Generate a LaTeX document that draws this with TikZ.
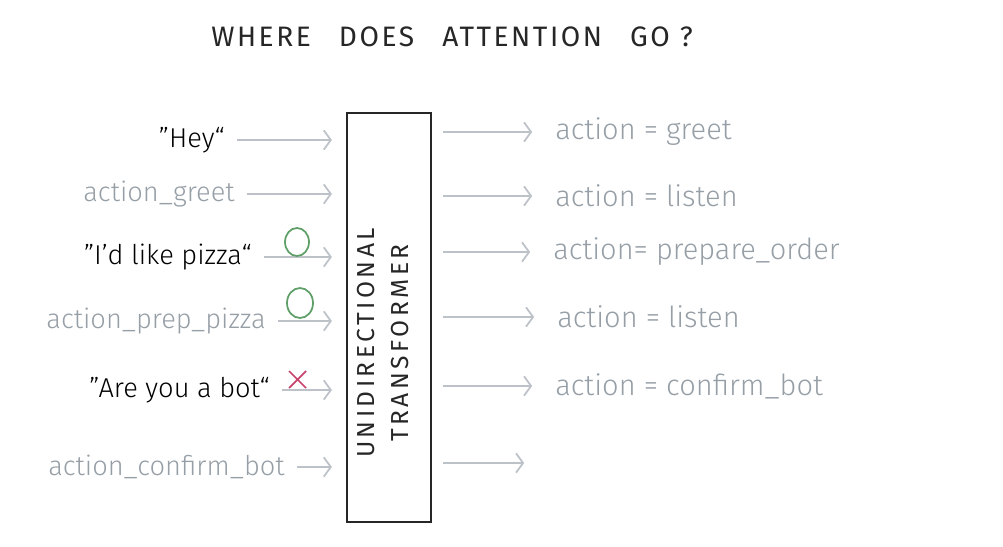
\documentclass[tikz,border=0pt]{standalone}
\usepackage{fontspec}
\setmainfont{Fira Sans Light}
\newfontfamily\capsfont[LetterSpace=9]{Fira Sans}
\newfontfamily\boxfont[LetterSpace=14]{Fira Sans}
\usetikzlibrary{arrows.meta}

\definecolor{inkgray}{RGB}{150,158,166}
\definecolor{arrowgray}{RGB}{188,194,200}
\definecolor{okgreen}{RGB}{95,160,105}
\definecolor{nored}{RGB}{200,70,110}

\tikzset{
  intext/.style={anchor=east, inner sep=0pt, font=\fontsize{15.5}{19}\selectfont},
  outtext/.style={anchor=west, inner sep=0pt, text=inkgray, font=\fontsize{16.5}{19}\selectfont},
  arr/.style={arrowgray, line width=1pt, -{Straight Barb[length=4pt,width=11pt]}},
}

\begin{document}
\begin{tikzpicture}[x=0.02cm, y=-0.02cm]

    \useasboundingbox (0,0) rectangle (1003,547);

    \node[text=black!85, font=\capsfont\fontsize{16}{20}\selectfont] (title) at (452,37) {WHERE\quad DOES\quad ATTENTION\quad GO ?};

    \node[draw=black!85, line width=1.2pt, minimum width=1.68cm, minimum height=8.18cm] (box) at (389,317.5) {};
    \node[rotate=90, align=center, text=black!85, font=\boxfont\fontsize{14}{19}\selectfont] (boxlabel) at (383,343) {UNIDIRECTIONAL\\TRANSFORMER};

    % inputs
    \node[intext] (in1) at (225,140) {”Hey“};
    \node[intext, text=inkgray] (in2) at (235,194) {action\_greet};
    \node[intext] (in3) at (252,257) {”I’d like pizza“};
    \node[intext, text=inkgray] (in4) at (266,321) {action\_prep\_pizza};
    \node[intext] (in5) at (270,390) {”Are you a bot“};
    \node[intext, text=inkgray] (in6) at (285,467) {action\_confirm\_bot};

    \foreach \i in {1,...,6}
        \draw[arr, shorten <=7pt, shorten >=8pt] (in\i.east) -- (in\i.east -| box.west);

    % outputs
    \node[outtext] (out1) at (555,132) {action = greet};
    \node[outtext] (out2) at (555,196) {action = listen};
    \node[outtext] (out3) at (553,252) {action= prepare\_order};
    \node[outtext] (out4) at (557,317) {action = listen};
    \node[outtext] (out5) at (555,386) {action = confirm\_bot};
    \coordinate (out6) at (547,463);

    \foreach \i in {1,...,6}
        \draw[arr, shorten <=6pt, shorten >=13pt] (out\i.west -| box.east) -- (out\i.west);

    % marks
    \draw[okgreen, line width=1pt] (297,242) ellipse (12 and 14);
    \draw[okgreen, line width=1pt] (300,303) ellipse (13 and 15);
    \draw[nored, line width=1pt] (289,371) -- (306,388) (289,388) -- (306,371);

\end{tikzpicture}
\end{document}
